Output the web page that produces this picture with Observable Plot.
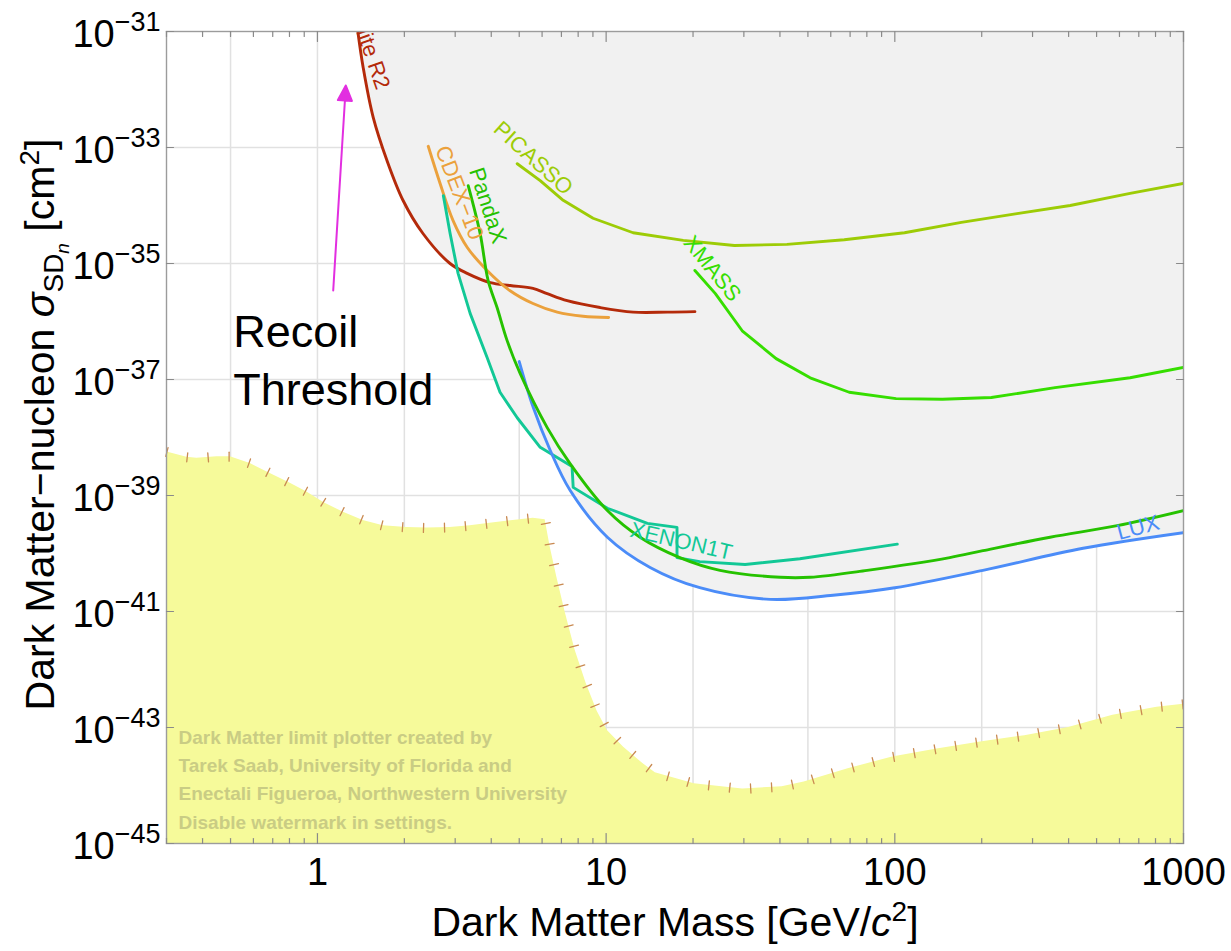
<!DOCTYPE html>
<html>
<head>
<meta charset="utf-8">
<script src="https://cdn.jsdelivr.net/npm/d3@7"></script>
<script src="https://cdn.jsdelivr.net/npm/@observablehq/plot@0.6"></script>
<style>
  body { margin: 0; background: #ffffff; }
  #chart svg { display: block; }
</style>
</head>
<body>
<div id="chart"></div>
<script>
// ---------------- data ----------------
const xTickValues = [1, 10, 100, 1000];
const xTickLabels = ["1", "10", "100", "1000"];
const yTickValues = [1e-31, 1e-33, 1e-35, 1e-37, 1e-39, 1e-41, 1e-43, 1e-45];
const yTickExponents = ["−31", "−33", "−35", "−37", "−39", "−41", "−43", "−45"];
const xGridValues = [0.5, 1, 2, 5, 10, 20, 50, 100, 200, 500];
const yGridValues = [1e-33, 1e-35, 1e-37, 1e-39, 1e-41, 1e-43];
const xMinorTickValues = [0.3, 0.4, 0.5, 0.6, 0.7, 0.8, 0.9, 2, 3, 4, 5, 6, 7, 8, 9,
  20, 30, 40, 50, 60, 70, 80, 90, 200, 300, 400, 500, 600, 700, 800, 900];

const cdmsliteMass  = [1.38, 1.44, 1.56, 1.74, 1.98, 2.32, 2.88, 3.30, 3.97, 4.65, 5.58, 6.25, 7.33, 9.53, 12.4, 16.3, 20.3];
const cdmsliteSigma = [1.0e-31, 2.40e-32, 3.31e-33, 6.03e-34, 1.22e-34, 3.29e-35, 1.0e-35, 6.76e-36, 4.68e-36, 4.17e-36, 3.72e-36, 3.02e-36, 2.29e-36, 1.74e-36, 1.45e-36, 1.45e-36, 1.48e-36];

const cdexMass  = [2.42, 2.66, 2.95, 3.30, 3.87, 4.65, 5.58, 6.77, 8.32, 10.2];
const cdexSigma = [1.05e-33, 2.40e-34, 5.50e-35, 1.91e-35, 7.59e-36, 3.39e-36, 2.04e-36, 1.45e-36, 1.23e-36, 1.17e-36];

const pandaxMass  = [3.33, 3.66, 3.90, 4.19, 4.54, 5.04, 6.25, 7.50, 10.1, 13.1, 18.0, 24.8, 40.1, 50.9, 80.2, 155, 202, 345, 589, 1000];
const pandaxSigma = [2.19e-34, 3.31e-35, 5.13e-36, 1.74e-36, 4.68e-37, 1.26e-37, 1.48e-38, 3.55e-39, 5.50e-40, 1.91e-40, 8.51e-41, 5.13e-41, 3.89e-41, 3.89e-41, 5.13e-41, 8.51e-41, 1.12e-40, 1.91e-40, 3.02e-40, 5.50e-40];

const picassoMass  = [4.92, 5.91, 7.10, 9.01, 12.4, 18.5, 27.8, 42.3, 66.8, 108, 170, 265, 405, 653, 1000];
const picassoSigma = [5.25e-34, 2.69e-34, 1.23e-34, 6.03e-35, 3.39e-35, 2.51e-35, 2.04e-35, 2.14e-35, 2.57e-35, 3.39e-35, 5.13e-35, 7.24e-35, 1.0e-34, 1.62e-34, 2.40e-34];

const xmassMass  = [20.3, 23.9, 29.6, 38.8, 50.9, 69.5, 101, 146, 216, 359, 653, 1000];
const xmassSigma = [7.59e-36, 3.02e-36, 6.92e-37, 2.29e-37, 1.07e-37, 6.03e-38, 4.68e-38, 4.57e-38, 4.90e-38, 7.24e-38, 1.07e-37, 1.62e-37];

const xenonMass  = [2.73, 2.88, 3.07, 3.38, 3.87, 4.29, 4.92, 5.91, 7.62, 7.69, 10.1, 13.9, 17.6, 17.6, 21.1, 30.3, 46.9, 102];
const xenonSigma = [1.48e-34, 3.31e-35, 6.76e-36, 1.38e-36, 2.40e-37, 6.03e-38, 2.19e-38, 6.76e-39, 3.16e-39, 1.38e-39, 6.03e-40, 3.31e-40, 2.82e-40, 8.51e-41, 7.24e-41, 6.46e-41, 8.13e-41, 1.45e-40];

const luxMass  = [5.0, 5.59, 6.40, 7.50, 10.1, 14.2, 21.1, 37.0, 61.1, 100, 202, 449, 1000];
const luxSigma = [2.04e-37, 3.31e-38, 6.03e-39, 1.23e-39, 1.91e-40, 5.75e-41, 2.57e-41, 1.62e-41, 1.91e-41, 2.57e-41, 5.13e-41, 1.23e-40, 2.29e-40];

const floorMass  = [0.301, 0.353, 0.382, 0.449, 0.499, 0.585, 0.686, 0.805, 0.919, 1.05, 1.23, 1.44, 1.69, 2.04, 2.39, 2.88, 3.38, 3.96, 4.76, 5.59, 6.15,
  6.40, 6.75, 7.21, 7.81, 8.53, 9.31, 10.1, 11.5, 13.4, 14.8, 20.2, 29.7, 40.7, 48.5, 68.9, 98.2, 140, 198, 282, 400, 569, 809, 1000];
const floorSigma = [5.62e-39, 4.57e-39, 4.37e-39, 4.68e-39, 4.68e-39, 3.55e-39, 2.40e-39, 1.62e-39, 1.15e-39, 7.59e-40, 5.13e-40, 3.72e-40, 3.02e-40, 2.82e-40, 2.75e-40, 2.82e-40, 3.02e-40, 3.31e-40, 3.72e-40, 4.07e-40, 3.80e-40,
  1.29e-40, 3.89e-41, 9.77e-42, 2.14e-42, 5.75e-43, 1.91e-43, 8.91e-44, 4.57e-44, 2.40e-44, 1.66e-44, 1.07e-44, 8.71e-45, 9.55e-45, 1.15e-44, 1.95e-44, 3.09e-44, 4.27e-44, 5.62e-44, 7.24e-44, 1.0e-43, 1.62e-43, 2.24e-43, 2.51e-43];

const labelNames = ["CDMSlite R2", "CDEX−10", "PandaX", "PICASSO", "XMASS", "XENON1T", "LUX"];
const labelMass  = [1.69, 3.10, 3.89, 5.59, 23.3, 18.2, 696];
const labelSigma = [1.04e-32, 1.67e-34, 1.0e-34, 6.5e-34, 8.2e-36, 1.62e-40, 2.8e-40];
const labelAngle = [71, 69, 72, 42, 51, 13, -15];

const arrowMass  = [1.134, 1.254];
const arrowSigma = [3.42e-36, 1.17e-32];
const noteText = "Recoil\nThreshold";
const noteMass = 0.511;
const noteSigma = 2.36e-37;

const xTitle = "Dark Matter Mass [GeV/c2]";
const yTitle = "Dark Matter−nucleon σSDn [cm2]";
const watermarkLines = ["Dark Matter limit plotter created by", "Tarek Saab, University of Florida and",
  "Enectali Figueroa, Northwestern University", "Disable watermark in settings."];

// ---------------- styles / layout ----------------
const W = 1231, H = 951;
const M = {top: 31, right: 48, bottom: 108, left: 166};
const X_DOMAIN = [0.3, 1000];
const Y_DOMAIN = [1e-45, 1e-31];
const FONT = "'Liberation Sans', Arial, Helvetica, sans-serif";

const experiments = [
  {name: "CDMSlite R2", mass: cdmsliteMass, sigma: cdmsliteSigma, color: "#b42a0a", curve: "catmull-rom"},
  {name: "CDEX−10", mass: cdexMass, sigma: cdexSigma, color: "#eba13c", curve: "catmull-rom"},
  {name: "PICASSO", mass: picassoMass, sigma: picassoSigma, color: "#9dcc06", curve: "linear"},
  {name: "XMASS", mass: xmassMass, sigma: xmassSigma, color: "#36de00", curve: "linear"},
  {name: "XENON1T", mass: xenonMass, sigma: xenonSigma, color: "#12c896", curve: "linear"},
  {name: "LUX", mass: luxMass, sigma: luxSigma, color: "#4b8cf8", curve: "catmull-rom"},
  {name: "PandaX", mass: pandaxMass, sigma: pandaxSigma, color: "#26c200", curve: "catmull-rom"}
];
const colorOf = Object.fromEntries(experiments.map(e => [e.name, e.color]));
const rowsOf = e => e.mass.map((m, i) => ({name: e.name, m, s: e.sigma[i]}));
const floorRows = floorMass.map((m, i) => ({m, s: floorSigma[i]}));

// scales identical to the plot's, for screen-space decorations
const xs = Plot.scale({x: {type: "log", domain: X_DOMAIN, range: [M.left, W - M.right]}});
const ys = Plot.scale({y: {type: "log", domain: Y_DOMAIN, range: [H - M.bottom, M.top]}});

// hatch ticks along the neutrino floor (every 21px of screen arc length, normal to the curve)
const hatchRows = [];
{
  const pts = floorRows.map(d => [xs.apply(d.m), ys.apply(d.s)]);
  let carry = 0;
  const step = 21;
  for (let i = 0; i < pts.length - 1; i++) {
    const [x0, y0] = pts[i], [x1, y1] = pts[i + 1];
    const seg = Math.hypot(x1 - x0, y1 - y0);
    if (seg === 0) continue;
    const ux = (x1 - x0) / seg, uy = (y1 - y0) / seg;
    let t = carry;
    while (t <= seg) {
      const px = x0 + ux * t, py = y0 + uy * t;
      hatchRows.push({m: xs.invert(px), s: ys.invert(py), angle: Math.atan2(uy, ux) * 180 / Math.PI});
      t += step;
    }
    carry = t - seg;
  }
}

const lineShape = {draw(ctx, l) { ctx.moveTo(0, 0); ctx.lineTo(0, -l); }};

// arrow geometry
const ax1 = xs.apply(arrowMass[0]), ay1 = ys.apply(arrowSigma[0]);
const ax2 = xs.apply(arrowMass[1]), ay2 = ys.apply(arrowSigma[1]);
const arrowLen = Math.hypot(ax2 - ax1, ay2 - ay1);
const arrowAngle = Math.atan2(ax2 - ax1, -(ay2 - ay1)) * 180 / Math.PI;
const arrowShape = {draw(ctx, l) {
  ctx.moveTo(0, 0); ctx.lineTo(0, -(l - 10));
  ctx.moveTo(0, -l); ctx.lineTo(-7, -l + 15); ctx.lineTo(7, -l + 15); ctx.closePath();
}};

// ---------------- marks ----------------
const marks = [];
marks.push(Plot.ruleX(xGridValues, {stroke: "#e1e1e1", strokeWidth: 1.5}));
marks.push(Plot.ruleY(yGridValues, {stroke: "#e1e1e1", strokeWidth: 1.5}));

for (const e of experiments) {
  marks.push(Plot.areaY(rowsOf(e), {x: "m", y1: "s", y2: () => Y_DOMAIN[1], fill: "#f1f1f1", curve: e.curve, clip: true}));
}
marks.push(Plot.areaY(floorRows, {x: "m", y1: () => Y_DOMAIN[0], y2: "s", fill: "#f6fa9a", clip: true}));

marks.push(Plot.text([watermarkLines.join("\n")], {
  frameAnchor: "bottom-left", dx: 12, dy: -120, textAnchor: "start", lineAnchor: "top",
  lineHeight: 1.49, fontSize: 19, fontWeight: "bold", fill: "#c9cc84"
}));

marks.push(Plot.vector(hatchRows, {x: "m", y: "s", rotate: "angle", length: 9, anchor: "middle",
  shape: lineShape, stroke: "#c98a52", strokeWidth: 1.3}));

for (const e of experiments) {
  marks.push(Plot.line(rowsOf(e), {x: "m", y: "s", stroke: e.color, strokeWidth: 2.9, curve: e.curve, clip: true}));
}

labelNames.forEach((name, i) => {
  marks.push(Plot.text([name], {
    x: () => labelMass[i], y: () => labelSigma[i], text: d => d, rotate: labelAngle[i],
    textAnchor: i === 0 ? "end" : "middle", fontSize: 22, fill: colorOf[name], clip: true
  }));
});

marks.push(Plot.text([noteText], {x: () => noteMass, y: () => noteSigma, text: d => d,
  textAnchor: "start", lineAnchor: "middle", lineHeight: 1.29, fontSize: 45, fill: "#000"}));

marks.push(Plot.vector([0], {x: () => arrowMass[0], y: () => arrowSigma[0], rotate: arrowAngle,
  length: arrowLen, anchor: "start", shape: arrowShape, stroke: "#e22fe0", fill: "#e22fe0", strokeWidth: 2}));

marks.push(Plot.frame({stroke: "#9c9c9c", strokeWidth: 1.4}));

// inward axis ticks
const tickStyle = {shape: lineShape, stroke: "#8a8a8a", strokeWidth: 1.2, anchor: "start"};
marks.push(Plot.vector(xMinorTickValues, {x: d => d, y: () => Y_DOMAIN[0], rotate: 0, length: 5, ...tickStyle}));
marks.push(Plot.vector(xTickValues, {x: d => d, y: () => Y_DOMAIN[0], rotate: 0, length: 10, ...tickStyle}));
marks.push(Plot.vector(xMinorTickValues, {x: d => d, y: () => Y_DOMAIN[1], rotate: 180, length: 5, ...tickStyle}));
marks.push(Plot.vector(xTickValues, {x: d => d, y: () => Y_DOMAIN[1], rotate: 180, length: 10, ...tickStyle}));
marks.push(Plot.vector(yTickValues, {x: () => X_DOMAIN[0], y: d => d, rotate: 90, length: 7, ...tickStyle}));
marks.push(Plot.vector(yTickValues, {x: () => X_DOMAIN[1], y: d => d, rotate: -90, length: 7, ...tickStyle}));

marks.push(Plot.axisX(xTickValues, {tickSize: 0, tickPadding: 15, fontSize: 38,
  tickFormat: d => xTickLabels[xTickValues.indexOf(d)], label: null}));
marks.push(Plot.axisY(yTickValues, {tickSize: 0, tickPadding: 6, fontSize: 38, dy: 3,
  tickFormat: d => yTickExponents[yTickValues.indexOf(d)], label: null}));

marks.push(Plot.text([xTitle], {text: d => d, frameAnchor: "bottom", textAnchor: "middle", lineAnchor: "bottom",
  dy: 92, fontSize: 41, fill: "#000"}));
marks.push(Plot.text([yTitle], {text: d => d, frameAnchor: "left", textAnchor: "middle", lineAnchor: "bottom", rotate: -90,
  dx: -113, dy: -13, fontSize: 41, fill: "#000"}));

const svg = Plot.plot({
  width: W, height: H,
  marginTop: M.top, marginRight: M.right, marginBottom: M.bottom, marginLeft: M.left,
  x: {type: "log", domain: X_DOMAIN},
  y: {type: "log", domain: Y_DOMAIN},
  style: {fontFamily: FONT, background: "#ffffff", color: "#000", overflow: "visible"},
  marks
});

// ---------------- rich text (superscripts / italics) ----------------
const NS = "http://www.w3.org/2000/svg";
function tspan(parent, text, attrs = {}) {
  const t = document.createElementNS(NS, "tspan");
  for (const [k, v] of Object.entries(attrs)) t.setAttribute(k, v);
  t.textContent = text;
  parent.appendChild(t);
  return t;
}
svg.querySelectorAll('[aria-label="y-axis tick label"] text').forEach(t => {
  const exp = t.textContent;
  t.textContent = "";
  tspan(t, "10");
  tspan(t, exp, {"font-size": "27px", dy: "-16"});
});
svg.querySelectorAll("text").forEach(t => {
  if (t.textContent === xTitle) {
    t.textContent = "";
    tspan(t, "Dark Matter Mass [GeV/");
    tspan(t, "c", {"font-style": "italic"});
    tspan(t, "2", {"font-size": "28px", dy: "-15"});
    tspan(t, "]", {dy: "15"});
  } else if (t.textContent === yTitle) {
    t.setAttribute("text-anchor", "middle");
    t.textContent = "";
    tspan(t, "Dark Matter−nucleon ");
    tspan(t, "σ", {"font-style": "italic"});
    tspan(t, "SD", {"font-size": "28px", dy: "9"});
    tspan(t, "n", {"font-size": "19px", dy: "6", "font-style": "italic"});
    tspan(t, " [cm", {"font-size": "41px", dy: "-15"});
    tspan(t, "2", {"font-size": "28px", dy: "-15"});
    tspan(t, "]", {"font-size": "41px", dy: "15"});
  }
});

document.getElementById("chart").appendChild(svg);
</script>
</body>
</html>
